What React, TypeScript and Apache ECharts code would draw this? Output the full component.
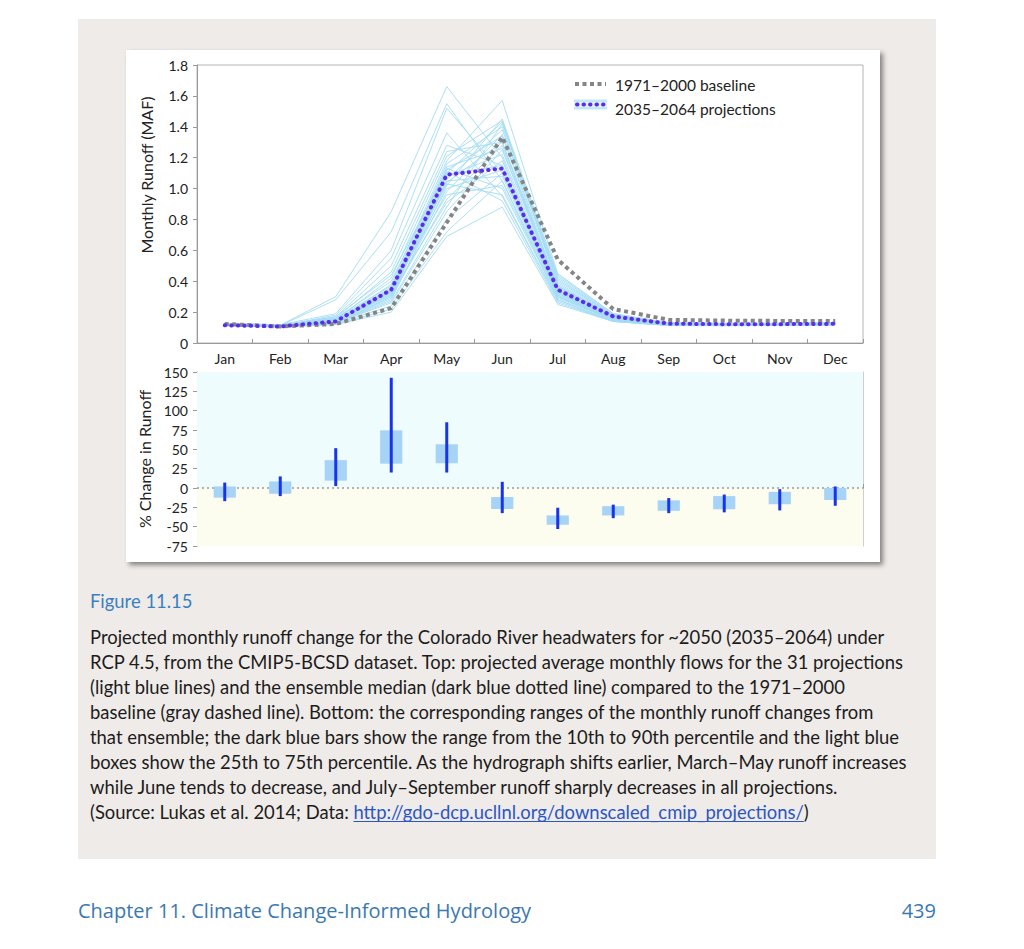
import React, { useEffect, useRef } from 'react';
import * as echarts from 'echarts';

const months = ['Jan', 'Feb', 'Mar', 'Apr', 'May', 'Jun', 'Jul', 'Aug', 'Sep', 'Oct', 'Nov', 'Dec'];

const baseline = [0.123, 0.107, 0.123, 0.226, 0.78, 1.333, 0.54, 0.22, 0.15, 0.145, 0.143, 0.142];
const median = [0.115, 0.107, 0.14, 0.345, 1.09, 1.13, 0.345, 0.172, 0.125, 0.122, 0.122, 0.124];

const projections = [
  [0.125, 0.115, 0.30, 0.85, 1.66, 1.20, 0.30, 0.15, 0.12, 0.12, 0.12, 0.125],
  [0.12, 0.112, 0.28, 0.72, 1.55, 1.05, 0.28, 0.14, 0.115, 0.115, 0.118, 0.12],
  [0.128, 0.118, 0.19, 0.60, 1.52, 1.10, 0.32, 0.15, 0.12, 0.118, 0.12, 0.125],
  [0.118, 0.11, 0.18, 0.55, 1.36, 0.95, 0.27, 0.14, 0.115, 0.113, 0.115, 0.118],
  [0.122, 0.113, 0.17, 0.50, 1.28, 1.15, 0.30, 0.15, 0.118, 0.117, 0.12, 0.122],
  [0.12, 0.11, 0.16, 0.46, 1.24, 1.30, 0.33, 0.16, 0.12, 0.12, 0.122, 0.124],
  [0.125, 0.116, 0.15, 0.42, 1.21, 1.44, 0.38, 0.17, 0.125, 0.122, 0.124, 0.126],
  [0.118, 0.108, 0.14, 0.38, 1.18, 1.57, 0.45, 0.19, 0.13, 0.125, 0.126, 0.128],
  [0.124, 0.114, 0.15, 0.36, 1.16, 1.40, 0.40, 0.18, 0.128, 0.124, 0.125, 0.127],
  [0.115, 0.106, 0.14, 0.34, 1.14, 1.26, 0.35, 0.17, 0.124, 0.12, 0.121, 0.123],
  [0.121, 0.112, 0.16, 0.40, 1.13, 1.00, 0.29, 0.15, 0.118, 0.117, 0.118, 0.12],
  [0.119, 0.11, 0.15, 0.33, 1.12, 1.34, 0.36, 0.17, 0.125, 0.122, 0.123, 0.125],
  [0.126, 0.117, 0.17, 0.44, 1.11, 0.92, 0.26, 0.14, 0.114, 0.113, 0.115, 0.118],
  [0.117, 0.108, 0.14, 0.31, 1.10, 1.43, 0.42, 0.18, 0.13, 0.126, 0.127, 0.13],
  [0.123, 0.113, 0.15, 0.35, 1.09, 1.15, 0.33, 0.16, 0.122, 0.12, 0.121, 0.123],
  [0.12, 0.111, 0.14, 0.32, 1.08, 1.22, 0.34, 0.165, 0.123, 0.121, 0.122, 0.124],
  [0.116, 0.107, 0.13, 0.30, 1.06, 1.38, 0.41, 0.18, 0.128, 0.124, 0.125, 0.128],
  [0.122, 0.112, 0.15, 0.34, 1.05, 1.08, 0.31, 0.155, 0.12, 0.118, 0.12, 0.122],
  [0.119, 0.109, 0.14, 0.31, 1.04, 1.30, 0.37, 0.17, 0.126, 0.122, 0.123, 0.126],
  [0.124, 0.115, 0.16, 0.37, 1.03, 0.96, 0.28, 0.145, 0.116, 0.115, 0.117, 0.12],
  [0.114, 0.105, 0.13, 0.28, 1.02, 1.45, 0.44, 0.19, 0.132, 0.127, 0.128, 0.131],
  [0.12, 0.11, 0.14, 0.33, 1.00, 1.12, 0.32, 0.16, 0.121, 0.119, 0.12, 0.122],
  [0.117, 0.108, 0.13, 0.29, 0.98, 1.35, 0.39, 0.175, 0.127, 0.123, 0.124, 0.127],
  [0.123, 0.114, 0.15, 0.35, 0.96, 1.02, 0.30, 0.15, 0.119, 0.117, 0.119, 0.121],
  [0.118, 0.109, 0.13, 0.30, 0.93, 1.28, 0.37, 0.17, 0.125, 0.122, 0.123, 0.125],
  [0.121, 0.112, 0.14, 0.32, 0.91, 1.18, 0.34, 0.16, 0.122, 0.12, 0.121, 0.123],
  [0.115, 0.106, 0.13, 0.27, 0.88, 1.42, 0.43, 0.185, 0.13, 0.125, 0.126, 0.129],
  [0.119, 0.11, 0.13, 0.26, 0.85, 1.25, 0.36, 0.17, 0.124, 0.121, 0.122, 0.124],
  [0.116, 0.107, 0.125, 0.24, 0.80, 1.10, 0.33, 0.16, 0.12, 0.118, 0.119, 0.121],
  [0.113, 0.104, 0.12, 0.22, 0.72, 1.05, 0.31, 0.155, 0.118, 0.116, 0.117, 0.12],
  [0.112, 0.103, 0.12, 0.20, 0.69, 0.88, 0.25, 0.14, 0.113, 0.112, 0.114, 0.117],
];

// % change percentiles
const p10 = [-17, -10.5, 2.5, 20, 20, -32.5, -53, -39, -32.5, -31.5, -29, -23];
const p25 = [-12.5, -7.5, 9.5, 31.5, 32, -27, -47.5, -35.5, -29.5, -27.5, -21, -15.5];
const p75 = [2, 8.5, 36, 74.5, 56.5, -11.5, -35.5, -23.5, -16, -10.5, -5, 0];
const p90 = [7, 15, 51.5, 142.5, 85, 8, -25.5, -21.5, -13, -8.5, -1.5, 2];

const topAxisName = 'Monthly Runoff (MAF)';
const bottomAxisName = '% Change in Runoff';
const legendLabels = ['1971–2000 baseline', '2035–2064 projections'];
const figureTitle = 'Figure 11.15';
const captionLines = [
  'Projected monthly runoff change for the Colorado River headwaters for ~2050 (2035–2064) under',
  'RCP 4.5, from the CMIP5-BCSD dataset. Top: projected average monthly flows for the 31 projections',
  '(light blue lines) and the ensemble median (dark blue dotted line) compared to the 1971–2000',
  'baseline (gray dashed line). Bottom: the corresponding ranges of the monthly runoff changes from',
  'that ensemble; the dark blue bars show the range from the 10th to 90th percentile and the light blue',
  'boxes show the 25th to 75th percentile. As the hydrograph shifts earlier, March–May runoff increases',
  'while June tends to decrease, and July–September runoff sharply decreases in all projections.',
];
const sourcePrefix = '(Source: Lukas et al. 2014; Data: ';
const sourceLink = 'http://gdo-dcp.ucllnl.org/downscaled_cmip_projections/';
const sourceSuffix = ')';
const footerLeft = 'Chapter 11. Climate Change-Informed Hydrology';
const footerRight = '439';

const CHART_FONT = 'Lato';
const CAP_FONT = 'Lato';
const FOOT_FONT = 'Open Sans';

export default function App() {
  const ref = useRef<HTMLDivElement>(null);
  useEffect(() => {
    if (!ref.current) return;
    const chart = echarts.init(ref.current, null, { renderer: 'svg' });
    const ctx = document.createElement('canvas').getContext('2d') as CanvasRenderingContext2D;
    const tw = (s: string, size: number, fam: string) => {
      ctx.font = `${size}px ${fam}`;
      return ctx.measureText(s).width;
    };

    // fit caption font so the first line spans the same width as in the page
    const rawCap = 17 * 797 / tw(captionLines[0], 17, CAP_FONT);
    const CAP_SIZE = Math.max(15, Math.min(19, rawCap));
    const rawFoot = 17 * 463 / tw(footerLeft, 17, FOOT_FONT);
    const FOOT_SIZE = Math.max(15, Math.min(20, rawFoot));

    const capX = 90;
    const capY0 = 637;
    const lineGap = 25;
    const capColor = '#1c1c1c';
    const captionEls: any[] = captionLines.map((t, i) => ({
      type: 'text',
      x: capX,
      y: capY0 + i * lineGap,
      z: 10,
      style: { text: t, fill: capColor, fontSize: CAP_SIZE, fontFamily: CAP_FONT, verticalAlign: 'middle' },
    }));
    const srcY = capY0 + captionLines.length * lineGap;
    const wPre = tw(sourcePrefix, CAP_SIZE, CAP_FONT);
    const wLink = tw(sourceLink, CAP_SIZE, CAP_FONT);
    captionEls.push(
      { type: 'text', x: capX, y: srcY, z: 10, style: { text: sourcePrefix, fill: capColor, fontSize: CAP_SIZE, fontFamily: CAP_FONT, verticalAlign: 'middle' } },
      { type: 'text', x: capX + wPre, y: srcY, z: 10, style: { text: sourceLink, fill: '#2a56c6', fontSize: CAP_SIZE, fontFamily: CAP_FONT, verticalAlign: 'middle' } },
      { type: 'line', z: 10, shape: { x1: capX + wPre, y1: srcY + 9.5, x2: capX + wPre + wLink, y2: srcY + 9.5 }, style: { stroke: '#2a56c6', lineWidth: 1 } },
      { type: 'text', x: capX + wPre + wLink, y: srcY, z: 10, style: { text: sourceSuffix, fill: capColor, fontSize: CAP_SIZE, fontFamily: CAP_FONT, verticalAlign: 'middle' } },
    );

    const projSeries = projections.map((row, i) => ({
      name: 'proj' + i,
      type: 'line',
      xAxisIndex: 0,
      yAxisIndex: 0,
      data: row,
      symbol: 'none',
      silent: true,
      z: 2,
      lineStyle: { color: '#a3dbf4', width: 1, opacity: 0.9 },
    }));

    const axisGray = '#9a9a9a';
    const option: any = {
      animation: false,
      backgroundColor: '#ffffff',
      grid: [
        { left: 197, top: 65, width: 666, height: 278, show: true, borderColor: '#b4b4b4', borderWidth: 1, backgroundColor: 'transparent' },
        { left: 197, top: 372, width: 666, height: 174 },
      ],
      xAxis: [
        {
          type: 'category', gridIndex: 0, data: months, boundaryGap: true,
          axisLine: { lineStyle: { color: axisGray, width: 1 } },
          axisTick: { show: true, inside: true, length: 4, lineStyle: { color: axisGray } },
          axisLabel: { color: '#222', fontSize: 14, fontFamily: CHART_FONT, margin: 8 },
          splitLine: { show: false },
        },
        {
          type: 'category', gridIndex: 1, data: months, boundaryGap: true,
          axisLine: { lineStyle: { color: axisGray, width: 1 } },
          axisTick: { show: true, inside: true, length: 4, lineStyle: { color: axisGray } },
          axisLabel: { show: false },
          splitLine: { show: false },
        },
      ],
      yAxis: [
        {
          type: 'value', gridIndex: 0, min: 0, max: 1.8, interval: 0.2,
          axisLine: { show: true, lineStyle: { color: axisGray } },
          axisTick: { show: true, length: 4, lineStyle: { color: axisGray } },
          axisLabel: {
            color: '#222', fontSize: 14, fontFamily: CHART_FONT, margin: 9,
            formatter: (v: number) => (Math.abs(v) < 1e-9 ? '0' : v.toFixed(1)),
          },
          splitLine: { show: false },
        },
        {
          type: 'value', gridIndex: 1, min: -75, max: 150, interval: 25,
          name: bottomAxisName, nameLocation: 'middle', nameGap: 43,
          nameTextStyle: { color: '#222', fontSize: 16, fontFamily: CHART_FONT },
          axisLine: { show: true, lineStyle: { color: axisGray } },
          axisTick: { show: true, length: 4, lineStyle: { color: axisGray } },
          axisLabel: { color: '#222', fontSize: 14, fontFamily: CHART_FONT, margin: 9 },
          splitLine: { show: false },
        },
        {
          type: 'value', gridIndex: 1, min: -75, max: 150, interval: 25, position: 'right',
          axisLine: { show: true, lineStyle: { color: '#cfcfcf' } },
          axisTick: { show: false }, axisLabel: { show: false }, splitLine: { show: false },
        },
      ],
      series: [
        {
          name: 'bands',
          type: 'line',
          xAxisIndex: 1,
          yAxisIndex: 1,
          data: months.map(() => null),
          symbol: 'none',
          silent: true,
          z: 1,
          markArea: {
            silent: true,
            data: [
              [{ yAxis: 0, itemStyle: { color: '#eefcfe' } }, { yAxis: 150 }],
              [{ yAxis: -75, itemStyle: { color: '#fcfcef' } }, { yAxis: 0 }],
            ],
          },
          markLine: {
            silent: true,
            symbol: 'none',
            label: { show: false },
            lineStyle: { color: axisGray, type: [2, 3], width: 1.5 },
            data: [{ yAxis: 0 }],
          },
        },
        ...projSeries,
        {
          name: legendLabels[0],
          type: 'line',
          xAxisIndex: 0,
          yAxisIndex: 0,
          data: baseline,
          symbol: 'none',
          z: 3,
          lineStyle: { color: '#858585', width: 4, type: [4, 3.5] },
        },
        {
          name: legendLabels[1],
          type: 'line',
          xAxisIndex: 0,
          yAxisIndex: 0,
          data: median,
          symbol: 'none',
          z: 4,
          lineStyle: { color: '#5a2cf0', width: 4, type: [0.5, 6], cap: 'round' },
        },
        {
          name: 'change',
          type: 'custom',
          xAxisIndex: 1,
          yAxisIndex: 1,
          z: 5,
          data: months.map((m, i) => [i, p10[i], p25[i], p75[i], p90[i]]),
          encode: { x: 0, y: [1, 2, 3, 4] },
          renderItem: (params: any, api: any) => {
            const x = api.value(0);
            const q1 = api.coord([x, api.value(2)]);
            const q3 = api.coord([x, api.value(3)]);
            const lo = api.coord([x, api.value(1)]);
            const hi = api.coord([x, api.value(4)]);
            const bw = api.size([1, 0])[0] * 0.4;
            return {
              type: 'group',
              children: [
                { type: 'rect', shape: { x: q1[0] - bw / 2, y: q3[1], width: bw, height: q1[1] - q3[1] }, style: { fill: '#a6d3f6' } },
                { type: 'line', shape: { x1: q1[0], y1: hi[1], x2: q1[0], y2: lo[1] }, style: { stroke: '#1733f0', lineWidth: 3 } },
              ],
            };
          },
        },
      ],
      graphic: [
        { type: 'rect', z: -100, shape: { x: 78, y: 19, width: 858, height: 840 }, style: { fill: '#efebe8' } },
        {
          type: 'rect', z: -90, shape: { x: 126, y: 50, width: 754, height: 512 },
          style: { fill: '#ffffff', shadowBlur: 5, shadowOffsetX: 3, shadowOffsetY: 3, shadowColor: 'rgba(0,0,0,0.45)' },
        },
        // top y-axis title (sits above the plot's centre in the page)
        {
          type: 'text', z: 10, x: 146, y: 175, rotation: Math.PI / 2,
          style: { text: topAxisName, fill: '#222', fontSize: 16, fontFamily: CHART_FONT, align: 'center', verticalAlign: 'middle' },
        },
        // legend
        { type: 'line', z: 50, shape: { x1: 575, y1: 84, x2: 606, y2: 84 }, style: { stroke: '#858585', lineWidth: 4, lineDash: [4, 3.5] } },
        { type: 'rect', z: 50, shape: { x: 574, y: 99, width: 33, height: 11 }, style: { fill: 'rgba(170,222,246,0.35)' } },
        { type: 'line', z: 50, shape: { x1: 574, y1: 101, x2: 607, y2: 101 }, style: { stroke: '#a6dcf5', lineWidth: 1 } },
        { type: 'line', z: 50, shape: { x1: 574, y1: 108, x2: 607, y2: 108 }, style: { stroke: '#a6dcf5', lineWidth: 1 } },
        { type: 'line', z: 51, shape: { x1: 577, y1: 104.5, x2: 606, y2: 104.5 }, style: { stroke: '#5a2cf0', lineWidth: 4, lineDash: [0.5, 6], lineCap: 'round' } },
        { type: 'text', z: 50, x: 615, y: 85, style: { text: legendLabels[0], fill: '#222', fontSize: 15.5, fontFamily: CHART_FONT, verticalAlign: 'middle' } },
        { type: 'text', z: 50, x: 615, y: 109, style: { text: legendLabels[1], fill: '#222', fontSize: 15.5, fontFamily: CHART_FONT, verticalAlign: 'middle' } },
        // caption
        { type: 'text', z: 10, x: capX, y: 601, style: { text: figureTitle, fill: '#3a7fc2', fontSize: CAP_SIZE, fontFamily: CAP_FONT, verticalAlign: 'middle' } },
        ...captionEls,
        // footer
        { type: 'text', z: 10, x: 78, y: 910, style: { text: footerLeft, fill: '#3b78b2', fontSize: FOOT_SIZE, fontFamily: FOOT_FONT, verticalAlign: 'middle' } },
        { type: 'text', z: 10, x: 936, y: 910, style: { text: footerRight, fill: '#3b78b2', fontSize: FOOT_SIZE, fontFamily: FOOT_FONT, align: 'right', verticalAlign: 'middle' } },
      ],
    };
    chart.setOption(option);
    return () => chart.dispose();
  }, []);
  return <div ref={ref} style={{ position: 'absolute', left: 0, top: 0, width: 1024, height: 949 }} />;
}
